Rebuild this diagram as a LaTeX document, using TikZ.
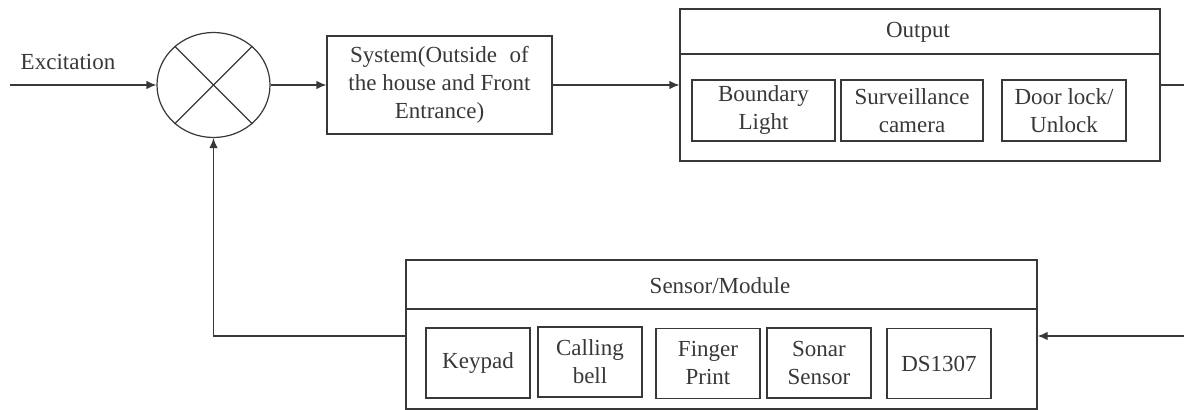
\documentclass[tikz,border=0pt]{standalone}
\usepackage{fontspec}
\setmainfont{Liberation Serif}
\usetikzlibrary{arrows.meta,shapes.geometric}
\definecolor{ink}{gray}{0.22}
\tikzset{
  every node/.style={font=\fontsize{11.5pt}{14pt}\selectfont, text=ink},
  box/.style={draw=ink, line width=0.6pt, inner sep=0pt, align=center},
  link/.style={draw=ink, line width=0.6pt},
  arr/.style={link, -{Latex[length=5pt,width=4.2pt]}},
}
\begin{document}
\begin{tikzpicture}[x=0.5pt,y=-0.5pt]
\useasboundingbox (0,0) rectangle (1184,410);

% summing junction
\node[box, ellipse, minimum width=113*0.5pt, minimum height=105*0.5pt] (sum) at (213.5,85) {};
\draw[link] (sum.135) -- (sum.-45);
\draw[link] (sum.45) -- (sum.-135);

% input
\coordinate (in) at (10,85);
\node (exc) at (68,62) {Excitation};
\draw[arr] (in) -- (sum.west);

% plant
\node[box, minimum width=225*0.5pt, minimum height=98*0.5pt] (sys) at (439.5,85)
  {System(Outside\hspace{0.55em}of\\the house and Front\\Entrance)};
\draw[arr] (sum.east) -- (sys.west);

% output block
\node[box, minimum width=480*0.5pt, minimum height=152*0.5pt] (out) at (920,85) {};
\coordinate (outdiv) at (680,54);
\draw[link] (outdiv) -- (outdiv -| out.east);
\node (outlbl) at (918,32) {Output};
\node[box, minimum width=143*0.5pt, minimum height=61*0.5pt] (light) at (763.5,110.5) {Boundary\\Light};
\node[box, minimum width=142*0.5pt, minimum height=61*0.5pt] (cam) at (912,110.5) {Surveillance\\camera};
\node[box, minimum width=124*0.5pt, minimum height=61*0.5pt] (lock) at (1064,110.5) {Door lock/\\Unlock};
\draw[arr] (sys.east) -- (out.west);
\coordinate (rout) at (1184,85);
\draw[link] (out.east) -- (rout);

% sensor block
\node[box, minimum width=631*0.5pt, minimum height=149*0.5pt] (sens) at (721.5,334.5) {};
\coordinate (sensdiv) at (406,309);
\draw[link] (sensdiv) -- (sensdiv -| sens.east);
\node (senslbl) at (720,286) {Sensor/Module};
\node[box, minimum width=104*0.5pt, minimum height=70*0.5pt] (key) at (478,363) {Keypad};
\node[box, minimum width=104*0.5pt, minimum height=70*0.5pt] (bell) at (590,362) {Calling\\bell};
\node[box, minimum width=104*0.5pt, minimum height=70*0.5pt] (finger) at (708,363.5) {Finger\\Print};
\node[box, minimum width=104*0.5pt, minimum height=70*0.5pt] (sonar) at (819,363) {Sonar\\Sensor};
\node[box, minimum width=104*0.5pt, minimum height=70*0.5pt] (rtc) at (939,363.5) {DS1307};

% feedback path
\coordinate (rin) at (1184,336);
\draw[arr] (rin) -- (rin -| sens.east);
\draw[arr] (rin -| sens.west) -| (sum.south);
\end{tikzpicture}
\end{document}
